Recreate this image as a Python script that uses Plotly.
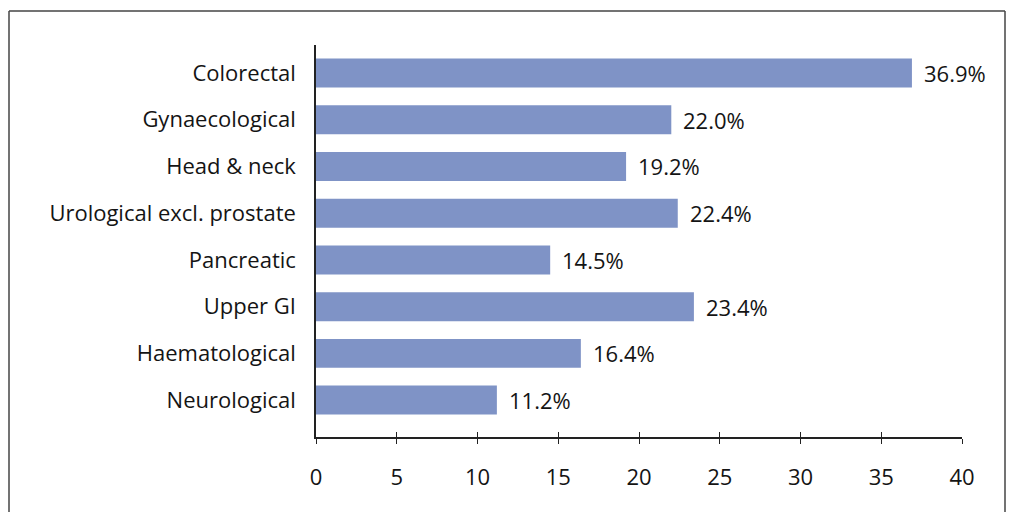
import plotly.graph_objects as go

# Share of patients by cancer type (%)
categories = [
    "Colorectal",
    "Gynaecological",
    "Head & neck",
    "Urological excl. prostate",
    "Pancreatic",
    "Upper GI",
    "Haematological",
    "Neurological",
]
values = [36.9, 22.0, 19.2, 22.4, 14.5, 23.4, 16.4, 11.2]
x_ticks = [0, 5, 10, 15, 20, 25, 30, 35, 40]

BAR_COLOR = "#7f93c6"
TEXT_COLOR = "#141414"
FONT = "Open Sans, Lato, sans-serif"
FS = 22

# plot from bottom to top so the first category sits at the top
cats = categories[::-1]
vals = values[::-1]

fig = go.Figure()
fig.add_trace(go.Bar(
    x=vals,
    y=cats,
    orientation="h",
    marker=dict(color=BAR_COLOR, line=dict(width=0)),
    width=0.62,
    hoverinfo="skip",
))

for c, v in zip(cats, vals):
    fig.add_annotation(
        x=v, y=c, xref="x", yref="y",
        text=f"{v:.1f}%", showarrow=False,
        xanchor="left", xshift=10,
        font=dict(family=FONT, size=FS, color=TEXT_COLOR),
    )

W, H = 1009, 512
L, R, T, B = 316, 47, 45, 75

fig.update_layout(
    width=W, height=H,
    margin=dict(l=L, r=R, t=T, b=B),
    paper_bgcolor="white",
    plot_bgcolor="white",
    showlegend=False,
    font=dict(family=FONT, size=FS, color=TEXT_COLOR),
    xaxis=dict(
        range=[0, 40],
        tickvals=x_ticks,
        ticktext=[str(t) for t in x_ticks],
        showgrid=False, zeroline=False,
        showline=True, linecolor="#222", linewidth=1.5,
        ticks="outside", ticklen=5, tickwidth=1.2, tickcolor="#222",
        ticklabelstandoff=15,
        tickfont=dict(family=FONT, size=FS, color=TEXT_COLOR),
        fixedrange=True,
    ),
    xaxis2=dict(
        range=[0, 40], overlaying="x", anchor="y", side="bottom",
        tickvals=x_ticks, showticklabels=False,
        showgrid=False, zeroline=False, showline=False,
        ticks="inside", ticklen=5, tickwidth=1.2, tickcolor="#222",
    ),
    yaxis=dict(
        type="category",
        range=[-0.79, 7.6],
        showgrid=False, zeroline=False,
        showline=True, linecolor="#222", linewidth=1.5,
        ticks="", ticklabelstandoff=14,
        tickfont=dict(family=FONT, size=FS, color=TEXT_COLOR),
        fixedrange=True,
    ),
)

# dummy trace to activate the inner-tick axis
fig.add_trace(go.Scatter(x=[None], y=[None], xaxis="x2", yaxis="y",
                         showlegend=False, hoverinfo="skip"))

# outer frame around the figure
pw = W - L - R
ph = H - T - B
def px_x(p):
    return (p - L) / pw
def px_y(p):
    return 1 - (p - T) / ph

frame = dict(type="line", xref="paper", yref="paper",
             line=dict(color="#444", width=1.5))
fig.add_shape(x0=px_x(9), x1=px_x(1005), y0=px_y(11), y1=px_y(11), **frame)
fig.add_shape(x0=px_x(9), x1=px_x(9), y0=px_y(11), y1=px_y(514), **frame)
fig.add_shape(x0=px_x(1005), x1=px_x(1005), y0=px_y(11), y1=px_y(514), **frame)

fig.write_html("out.html")
